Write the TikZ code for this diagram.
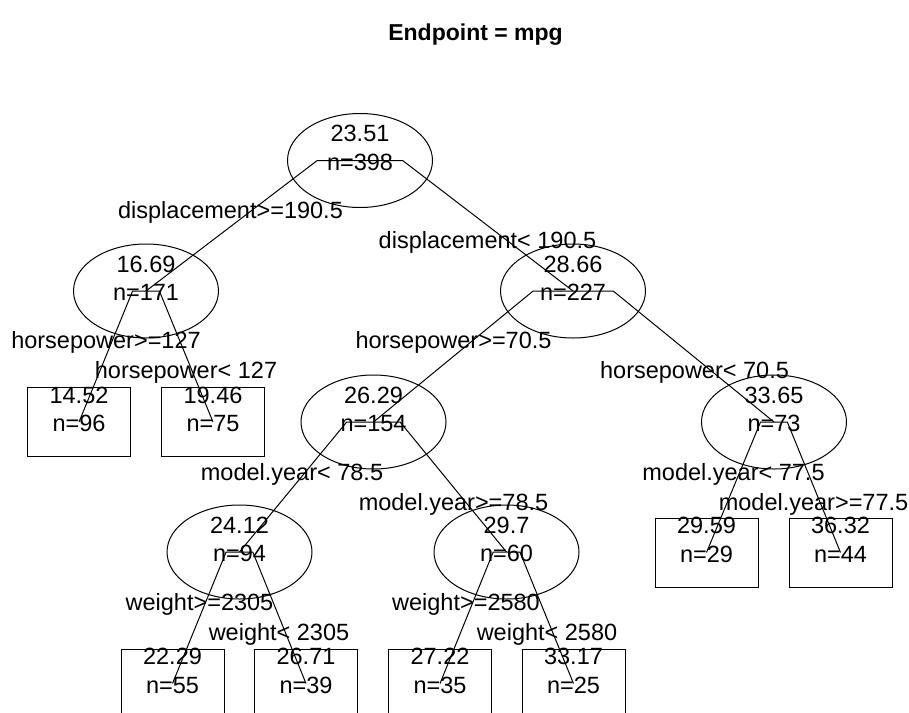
\documentclass[tikz,border=0pt]{standalone}
\usepackage{fontspec}
\setmainfont{Liberation Sans}
\usetikzlibrary{shapes.geometric,calc}
\newcommand\treeedge[2]{\draw[edgeline] let \p1=(#1.center),\p2=(#2.center) in (\p1) -- ({\x1+0.2*(\x2-\x1)},\y1) -- (\p2);}
\begin{document}
\begin{tikzpicture}[x=0.5pt,y=-0.5pt,
 ell/.style={draw,ellipse,minimum width=72.5pt,minimum height=47pt,inner sep=0pt,line width=0.5pt},
 leafbox/.style={draw,rectangle,minimum width=51.5pt,minimum height=34.5pt,inner sep=0pt,line width=0.5pt},
 txt/.style={inner sep=0pt,text height=8.4pt,text depth=0pt,font=\fontsize{11.75}{14}\selectfont},
 ttl/.style={inner sep=0pt,text height=8.3pt,text depth=0pt,font=\bfseries\fontsize{11.5}{14}\selectfont},
 edgeline/.style={line width=0.5pt}]
\useasboundingbox (0,0) rectangle (909,712);
\clip (0,0) rectangle (909,712);
\node[ttl] (title) at (475.5,32) {Endpoint = mpg};
% nodes
\node[ell] (root) at (360,160.5) {};
\node[ell] (A) at (146,291) {};
\node[ell] (B) at (573,291) {};
\node[leafbox] (A1) at (79,422) {};
\node[leafbox] (A2) at (213,422) {};
\node[ell] (C) at (373.5,422) {};
\node[ell] (D) at (774,422) {};
\node[ell] (E) at (239.5,552) {};
\node[ell] (F) at (506.5,552) {};
\node[leafbox] (D1) at (706.5,552.5) {};
\node[leafbox] (D2) at (840.5,552.5) {};
\node[leafbox] (E1) at (172.5,683.5) {};
\node[leafbox] (E2) at (306,683.5) {};
\node[leafbox] (F1) at (440,683.5) {};
\node[leafbox] (F2) at (573.5,683.5) {};
% node texts
\foreach \nm/\mv/\nv in {root/23.51/398, A/16.69/171, B/28.66/227, A1/14.52/96, A2/19.46/75,
  C/26.29/154, D/33.65/73, E/24.12/94, F/29.7/60, D1/29.59/29, D2/36.32/44,
  E1/22.29/55, E2/26.71/39, F1/27.22/35, F2/33.17/25}{
  \node[txt] (\nm-mean) at ([yshift=13.5pt]\nm.center) {\mv};
  \node[txt] (\nm-n) at ([yshift=-0.75pt]\nm.center) {n=\nv};
}
% edges
\treeedge{root}{A}
\treeedge{root}{B}
\treeedge{A}{A1}
\treeedge{A}{A2}
\treeedge{B}{C}
\treeedge{B}{D}
\treeedge{C}{E}
\treeedge{C}{F}
\treeedge{D}{D1}
\treeedge{D}{D2}
\treeedge{E}{E1}
\treeedge{E}{E2}
\treeedge{F}{F1}
\treeedge{F}{F2}
% split labels
\node[txt] (l-root-L) at (230.5,210) {displacement>=190.5};
\node[txt] (l-root-R) at (487.5,240) {displacement< 190.5};
\node[txt] (l-A-L) at (106,340) {horsepower>=127};
\node[txt] (l-A-R) at (186,370) {horsepower< 127};
\node[txt] (l-B-L) at (453.5,340) {horsepower>=70.5};
\node[txt] (l-B-R) at (694.5,370) {horsepower< 70.5};
\node[txt] (l-C-L) at (292,472) {model.year< 78.5};
\node[txt] (l-C-R) at (453.5,502) {model.year>=78.5};
\node[txt] (l-D-L) at (733.5,472) {model.year< 77.5};
\node[txt] (l-D-R) at (813.5,502) {model.year>=77.5};
\node[txt] (l-E-L) at (199.5,602) {weight>=2305};
\node[txt] (l-E-R) at (279,632) {weight< 2305};
\node[txt] (l-F-L) at (466,602) {weight>=2580};
\node[txt] (l-F-R) at (547,632) {weight< 2580};
\end{tikzpicture}
\end{document}
